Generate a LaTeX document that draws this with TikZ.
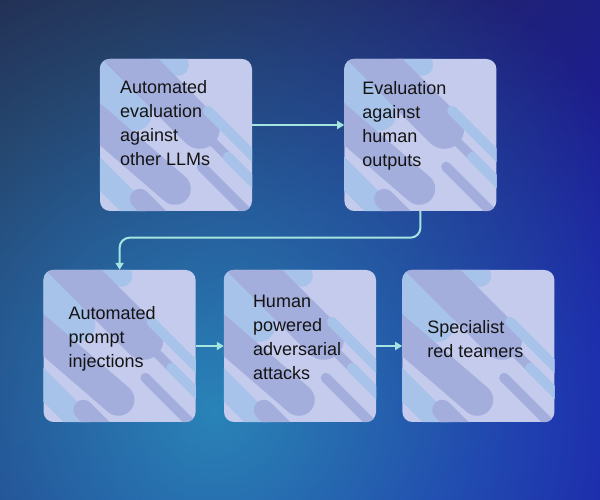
\documentclass[tikz,border=0pt]{standalone}
\usepackage{fontspec}
\setmainfont{Liberation Sans}
\usetikzlibrary{arrows.meta,positioning,fadings}

\definecolor{bgtop}{HTML}{232A4E}
\definecolor{bgbot}{HTML}{1A17AA}
\definecolor{glow}{HTML}{2A84B8}
\definecolor{cardfill}{HTML}{C4CBEC}
\definecolor{stripeblue}{HTML}{A7C3EA}
\definecolor{stripelav}{HTML}{A3AEDD}
\definecolor{flow}{HTML}{A6E4E0}

\tikzfading[name=glowfade,inner color=transparent!0,outer color=transparent!100]

% diagonal bands of one card, origin at its top left corner
\newcommand\cardstripes{%
  \draw[stripeblue,line width=34pt] (-20,0) -- (35,-55);
  \draw[stripeblue,line width=22pt] (62,0) -- (78,-6);
  \draw[stripelav,line width=40pt] (20,10) -- (100,-70);
  \draw[stripelav,line width=32pt] (-12,-55) -- (75,-130);
  \draw[stripeblue,line width=24pt] (-10,-105) -- (35,-150);
  \draw[stripelav,line width=20pt] (40,-140) -- (60,-160);
  \draw[stripeblue,line width=10pt] (108,-52) -- (160,-104);
  \draw[stripelav,line width=9pt] (112,-82) -- (160,-130);
  \draw[stripeblue,line width=10pt] (128,-98) -- (165,-135);
  \draw[stripelav,line width=10pt] (102,-108) -- (150,-156);
}

\begin{document}
\begin{tikzpicture}[
  x=1pt,y=1pt,
  font=\fontsize{18}{24}\selectfont,
  card/.style={rounded corners=10pt,fill=cardfill,minimum width=152pt,minimum height=152pt,inner sep=0pt},
  cardtext/.style={align=left,anchor=west,inner sep=0pt,text=black!92},
  arrow/.style={-{Triangle[length=7pt,width=8pt]},line width=2pt,draw=flow},
  node distance=28pt
]
\useasboundingbox (0,0) rectangle (600,500);
\shade[top color=bgtop,bottom color=bgbot,shading angle=45] (0,0) rectangle (600,500);
\begin{scope}
  \clip (0,0) rectangle (600,500);
  \fill[glow,path fading=glowfade] (215,90) circle (500);
\end{scope}

\node[card] (llmeval) at (176,365) {};
\node[card,right=92pt of llmeval] (humaneval) {};
\node[card] (injection) at (119.6,154) {};
\node[card,right=of injection] (adversarial) {};
\node[card,right=26pt of adversarial] (redteam) {};

\foreach \c in {llmeval,humaneval,injection,adversarial,redteam}{
  \begin{scope}
    \clip[rounded corners=10pt] (\c.south west) rectangle (\c.north east);
    \begin{scope}[shift={(\c.north west)},line cap=round]
      \cardstripes
    \end{scope}
  \end{scope}
}

\node[cardtext] (llmeval-t) at ([xshift=20pt,yshift=12pt]llmeval.west) {Automated\\evaluation\\against\\other LLMs};
\node[cardtext] (humaneval-t) at ([xshift=18pt,yshift=9pt]humaneval.west) {Evaluation\\against\\human\\outputs};
\node[cardtext] (injection-t) at ([xshift=25pt,yshift=7pt]injection.west) {Automated\\prompt\\injections};
\node[cardtext] (adversarial-t) at ([xshift=29pt,yshift=9pt]adversarial.west) {Human\\powered\\adversarial\\attacks};
\node[cardtext] (redteam-t) at ([xshift=25pt,yshift=7pt]redteam.west) {Specialist\\red teamers};

\draw[arrow] ([yshift=10pt]llmeval.east) -- ([yshift=10pt]humaneval.west);
\draw[arrow,rounded corners=10pt] (humaneval.south) -- ++(0,-26.5) -| (injection.north);
\draw[arrow] (injection) -- (adversarial);
\draw[arrow] (adversarial) -- (redteam);
\end{tikzpicture}
\end{document}
